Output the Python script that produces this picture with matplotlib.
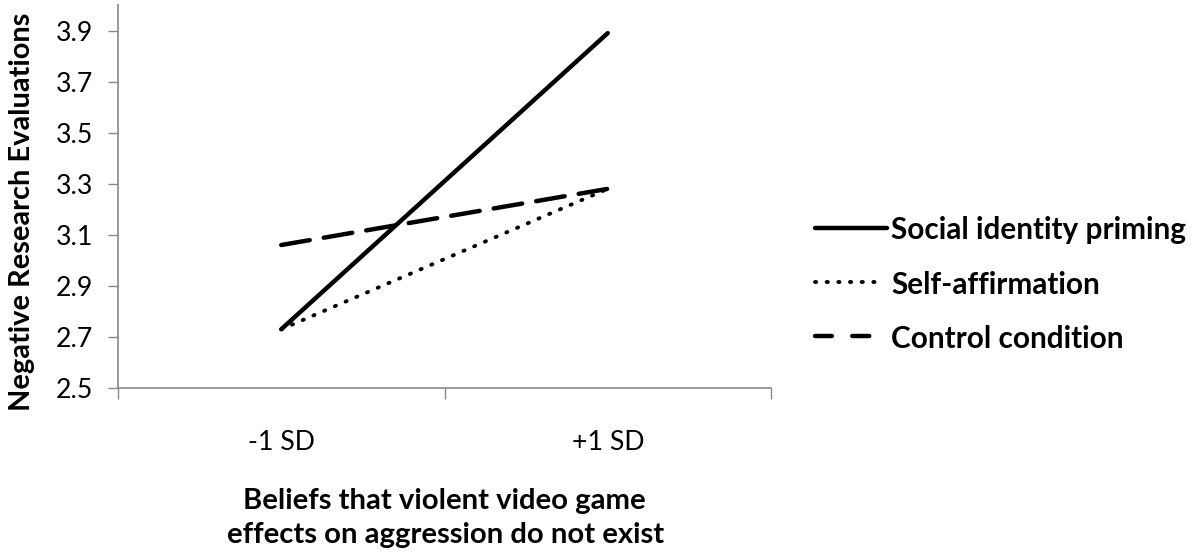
import matplotlib
matplotlib.use("Agg")
import matplotlib.pyplot as plt
from matplotlib.lines import Line2D

categories = ["-1 SD", "+1 SD"]
social_identity = [2.73, 3.89]
self_affirmation = [2.73, 3.28]
control = [3.06, 3.28]
series_names = ["Social identity priming", "Self-affirmation", "Control condition"]
yticks = [2.5, 2.7, 2.9, 3.1, 3.3, 3.5, 3.7, 3.9]

FONT = ['Lato', 'DejaVu Sans']
plt.rcParams['font.family'] = FONT

W, H = 1196, 555
fig = plt.figure(figsize=(W/100, H/100), dpi=100)
renderer = fig.canvas.get_renderer()


def fit(txt, target_px, horizontal=True):
    fs = txt.get_fontsize()
    for _ in range(3):
        bb = txt.get_window_extent(renderer)
        cur = bb.width if horizontal else bb.height
        fs = fs * target_px / cur
        txt.set_fontsize(fs)
    return fs


ax = fig.add_axes([118/W, 1-388/H, (771-118)/W, (388-5)/H])

x = list(range(len(categories)))
ax.plot(x, social_identity, color='black', lw=3.2, solid_capstyle='round')
ax.plot(x, self_affirmation, color='black', lw=2.8, linestyle=(0, (0.3, 2.7)), dash_capstyle='round')
ax.plot(x, control, color='black', lw=3.2, linestyle=(0, (6.5, 3.2)), dash_capstyle='round')

ax.set_xlim(-0.5, 1.5)
ax.set_ylim(2.5, 4.0)

# tick font size
probe = fig.text(0, 0, "-1 SD", fontsize=15)
tick_fs = fit(probe, 67)
probe.remove()

ax.set_yticks(yticks)
ax.set_yticklabels([f"{v:.1f}" for v in yticks])
ax.set_xticks([-0.5, 0.5, 1.5], minor=False)
ax.set_xticklabels([])
ax.set_xticks(x, minor=True)
ax.set_xticklabels(categories, minor=True)
ax.tick_params(axis='x', which='minor', length=0, pad=30, labelsize=tick_fs)
ax.tick_params(axis='x', which='major', length=8, width=1, color='#888888', direction='out')
ax.tick_params(axis='y', length=7, width=1, color='#888888', direction='out', labelsize=tick_fs, pad=11)

for s in ['top', 'right']:
    ax.spines[s].set_visible(False)
for s in ['left', 'bottom']:
    ax.spines[s].set_color('#888888')
    ax.spines[s].set_linewidth(1.2)

# x label (two lines)
xl2 = fig.text(446/W, 1-543/H, "effects on aggression do not exist",
               ha='center', va='baseline', fontweight='bold', fontsize=20)
lab_fs = fit(xl2, 437)
xl1 = fig.text(444/W, 1-509/H, "Beliefs that violent video game",
               ha='center', va='baseline', fontweight='bold', fontsize=lab_fs)

yl = fig.text(22/W, 1-212/H, "Negative Research Evaluations", rotation=90,
              ha='center', va='center', fontweight='bold', fontsize=lab_fs)
fit(yl, 398, horizontal=False)

# legend (drawn manually)
row_y = [228, 282, 336]
styles = [
    dict(lw=3.2, solid_capstyle='round'),
    dict(lw=2.8, linestyle=(0, (0.3, 2.7)), dash_capstyle='round'),
    dict(lw=3.2, linestyle=(0, (3.8, 4.6)), dash_capstyle='round'),
]
ends = [887, 879, 877]
leg_texts = []
for name, yy, st, xe in zip(series_names, row_y, styles, ends):
    fig.add_artist(Line2D([815/W, xe/W], [1-yy/H, 1-yy/H], color='black',
                          transform=fig.transFigure, **st))
    t = fig.text(891/W, 1-yy/H, name, ha='left', va='center_baseline',
                 fontweight='bold', fontsize=20)
    leg_texts.append(t)
leg_fs = fit(leg_texts[0], 297)
for t in leg_texts:
    t.set_fontsize(leg_fs)

fig.savefig("out.png", dpi=100)
